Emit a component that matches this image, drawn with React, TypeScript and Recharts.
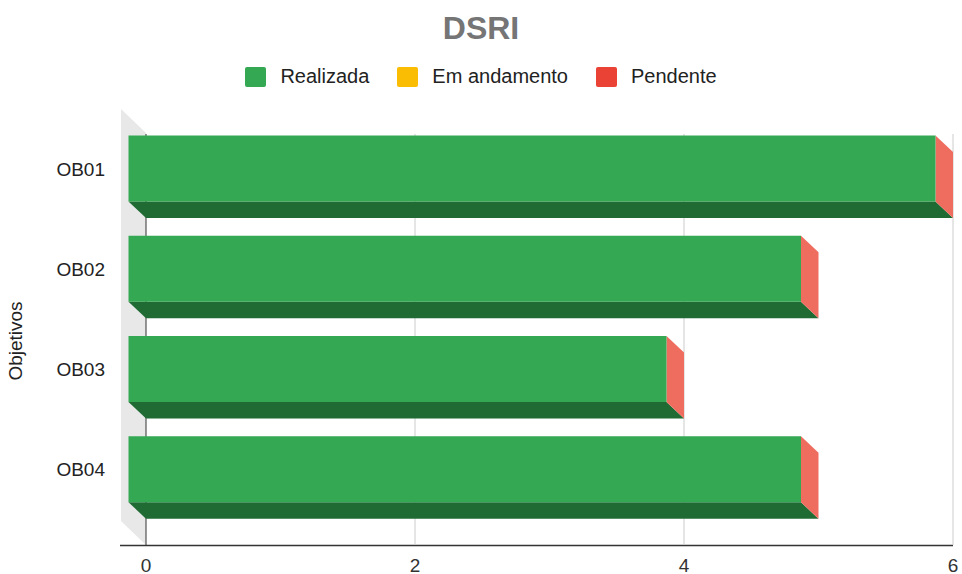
import React from "react";
import { BarChart, Bar, XAxis, YAxis, CartesianGrid } from "recharts";

const categories = ["OB01", "OB02", "OB03", "OB04"];
const realizada = [6, 5, 4, 5];
const emAndamento = [0, 0, 0, 0];
const pendente = [0, 0, 0, 0];
const xTicks = [0, 2, 4, 6];

const series = [
  { key: "realizada", name: "Realizada", color: "#34a853" },
  { key: "emAndamento", name: "Em andamento", color: "#fbbc04" },
  { key: "pendente", name: "Pendente", color: "#ea4335" },
];

const data = categories.map((c, i) => ({
  cat: c,
  realizada: realizada[i],
  emAndamento: emAndamento[i],
  pendente: pendente[i],
}));

const FONT = "'Liberation Sans', Arial, sans-serif";
// 3D depth offset of the front face
const DX = 17.5;
const DY = 16.5;

function Bar3D(props: any) {
  const { x, y, width, height } = props;
  if (!width || width <= 0) return null;
  const fx = x - DX;
  const fy = y - DY;
  return (
    <g>
      <polygon
        points={`${fx},${fy + height} ${fx + width},${fy + height} ${x + width},${y + height} ${x},${y + height}`}
        fill="#1f6b33"
      />
      <polygon
        points={`${fx + width},${fy} ${x + width},${y} ${x + width},${y + height} ${fx + width},${fy + height}`}
        fill="#ee6d5f"
      />
      <rect x={fx} y={fy} width={width} height={height} fill="#34a853" />
    </g>
  );
}

function GridLine(p: any) {
  const dark = p.index === 0;
  return (
    <line
      key={p.key}
      x1={p.x1}
      x2={p.x2}
      y1={p.y1 - 1}
      y2={p.y2 + 9}
      stroke={dark ? "#333333" : "#cccccc"}
      strokeWidth={1}
    />
  );
}

function CatTick(p: any) {
  return (
    <text
      x={p.x}
      y={p.y - DY + 0.5}
      textAnchor="end"
      dominantBaseline="central"
      fontSize={19}
      fontFamily={FONT}
      fill="#222222"
    >
      {p.payload.value}
    </text>
  );
}

function NumTick(p: any) {
  return (
    <text
      x={p.x}
      y={565}
      textAnchor="middle"
      dominantBaseline="central"
      fontSize={19}
      fontFamily={FONT}
      fill="#333333"
    >
      {p.payload.value}
    </text>
  );
}

export default function App() {
  return (
    <div
      style={{
        position: "absolute",
        left: 0,
        top: 0,
        width: 962,
        height: 574,
        background: "#ffffff",
        fontFamily: FONT,
      }}
    >
      {/* back wall and floor line */}
      <svg width={962} height={574} style={{ position: "absolute", left: 0, top: 0 }}>
        <polygon points="121,109 146,133 146,545 121,521" fill="#e8e8e8" />
        <line x1={120} x2={953} y1={545.5} y2={545.5} stroke="#333333" strokeWidth={1.5} />
      </svg>

      <div
        style={{
          position: "absolute",
          top: 8,
          width: 962,
          textAlign: "center",
          fontSize: 32,
          fontWeight: "bold",
          color: "#757575",
          lineHeight: "40px",
        }}
      >
        DSRI
      </div>

      <div
        style={{
          position: "absolute",
          top: 64,
          width: 962,
          display: "flex",
          justifyContent: "center",
          alignItems: "center",
          height: 25,
          fontSize: 20,
          color: "#222222",
        }}
      >
        {series.map((s, i) => (
          <div
            key={s.key}
            style={{
              display: "flex",
              alignItems: "center",
              marginRight: i < series.length - 1 ? 28 : 0,
            }}
          >
            <span
              style={{
                display: "inline-block",
                width: 21,
                height: 20,
                borderRadius: 2,
                background: s.color,
                marginRight: 14,
              }}
            />
            <span>{s.name}</span>
          </div>
        ))}
      </div>

      <div
        style={{
          position: "absolute",
          left: 16,
          top: 341,
          transform: "translate(-50%, -50%) rotate(-90deg)",
          fontSize: 19,
          color: "#222222",
          whiteSpace: "nowrap",
        }}
      >
        Objetivos
      </div>

      <div style={{ position: "absolute", left: 0, top: 0 }}>
        <BarChart
          width={962}
          height={574}
          data={data}
          layout="vertical"
          margin={{ top: 135, right: 9, bottom: 0, left: 0 }}
          barSize={66}
        >
          <CartesianGrid horizontal={false} vertical={GridLine as any} />
          <XAxis
            type="number"
            domain={[0, 6]}
            ticks={xTicks}
            axisLine={false}
            tickLine={false}
            height={38}
            tick={<NumTick />}
            interval={0}
          />
          <YAxis
            type="category"
            dataKey="cat"
            width={146}
            axisLine={false}
            tickLine={false}
            tickSize={0}
            tickMargin={41}
            tick={<CatTick />}
          />
          <Bar
            dataKey="realizada"
            stackId="a"
            name="Realizada"
            fill="#34a853"
            shape={<Bar3D />}
            isAnimationActive={false}
          />
          <Bar
            dataKey="emAndamento"
            stackId="a"
            name="Em andamento"
            fill="#fbbc04"
            isAnimationActive={false}
          />
          <Bar
            dataKey="pendente"
            stackId="a"
            name="Pendente"
            fill="#ea4335"
            isAnimationActive={false}
          />
        </BarChart>
      </div>
    </div>
  );
}
